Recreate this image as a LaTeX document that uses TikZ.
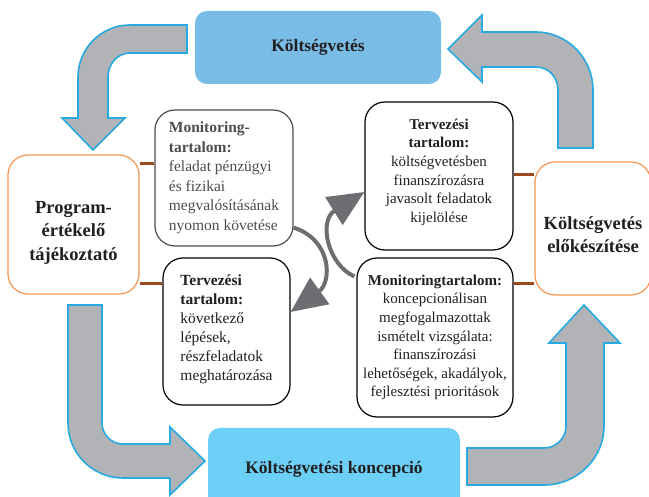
\documentclass[tikz,border=0pt]{standalone}
\usepackage{fontspec}
\setmainfont{Liberation Serif}
\usetikzlibrary{arrows.meta}

\definecolor{skyA}{HTML}{79BDE7}
\definecolor{skyB}{HTML}{6CCFF6}
\definecolor{flowgray}{HTML}{B1B3B6}
\definecolor{flowedge}{HTML}{27AAE1}
\definecolor{orangeedge}{HTML}{F39552}
\definecolor{linkbrown}{HTML}{9A4A1E}
\definecolor{loopgray}{HTML}{6D6E71}
\definecolor{ink}{HTML}{231F20}
\definecolor{softink}{HTML}{4D4D4F}

\tikzset{
  bigflow/.style={fill=flowgray, draw=flowedge, line width=1.6pt, line join=miter},
  stagebox/.style={draw=orangeedge, line width=1.2pt, fill=white, rounded corners=20pt,
    font=\fontsize{18.5}{23.5}\selectfont\bfseries, text=ink, align=center},
  budgetbox/.style={rounded corners=12pt, font=\fontsize{17.5}{21}\selectfont\bfseries, text=ink},
  notebox/.style={draw=black, line width=1.2pt, fill=white, rounded corners=20pt, text=ink},
  link/.style={draw=linkbrown, line width=3pt},
  loop/.style={draw=loopgray, line width=4pt, -{Triangle[length=36pt,width=32pt]}},
}
% struts that nudge a text block inside its box
\newcommand{\toppad}[1]{\rule{0pt}{#1}}
\newcommand{\botpad}[1]{\rule[-#1]{0pt}{1pt}}

\begin{document}
\begin{tikzpicture}[x=1pt,y=-1pt]
\useasboundingbox (0,0) rectangle (649,497);

% the four wide cycle arrows
\draw[bigflow] (187,25) -- (130,25) .. controls (101.3,25) and (78,48.3) .. (78,77)
  -- (78,118) -- (62,118) -- (93,150) -- (125,118) -- (108,118) -- (108,77)
  .. controls (108,63.7) and (117.8,53) .. (130,53) -- (187,53) -- cycle;
\draw[bigflow] (593,148) -- (593,90) .. controls (593,58.5) and (567.5,32) .. (536,32)
  -- (482,32) -- (482,15) -- (448,49) -- (482,82) -- (482,67) -- (536,67)
  .. controls (548.7,67) and (558,77.3) .. (558,90) -- (558,148) -- cycle;
\draw[bigflow] (68,305) -- (68,423) .. controls (68,453.4) and (92.6,478) .. (123,478)
  -- (170,478) -- (170,495) -- (205,461) -- (170,427) -- (170,444) -- (123,444)
  .. controls (111.4,444) and (102,434.6) .. (102,423) -- (102,305) -- cycle;
\draw[bigflow] (467,448) -- (467,485) -- (544,485) .. controls (577.1,485) and (604,458.6) .. (604,426)
  -- (604,343) -- (620,343) -- (584,305) -- (549,343) -- (566,343) -- (566,426)
  .. controls (566,438.2) and (556.2,448) .. (544,448) -- cycle;

% budget stages
\node[budgetbox, fill=skyA, minimum width=246pt, minimum height=73pt] (budget) at (318,47.5) {Költségvetés};
\node[budgetbox, fill=skyB, minimum width=252pt, minimum height=82pt] (concept) at (334,469) {Költségvetési koncepció};
\node[stagebox, minimum width=131pt, minimum height=139pt] (prog) at (73.5,224.5)
  {\toppad{28pt}Program-\\értékelő\\tájékoztató};
\node[stagebox, minimum width=116pt, minimum height=133pt] (prep) at (593,228.5)
  {\toppad{25pt}Költségvetés\\előkészítése};

% content notes
\node[notebox, draw=softink, text=softink, minimum width=138pt, minimum height=136pt,
  align=left, font=\fontsize{15.5}{19.5}\selectfont] (mon1) at (224,178)
  {\textbf{Monitoring-}\\\textbf{tartalom:}\\feladat pénzügyi\\és fizikai\\megvalósításának\\nyomon követése};
\node[notebox, minimum width=127pt, minimum height=147pt,
  align=left, font=\fontsize{15.5}{19}\selectfont] (ter1) at (226.5,331.5)
  {\textbf{Tervezési}\\\textbf{tartalom:}\\következő\\lépések,\\részfeladatok\\meghatározása\botpad{8pt}};
\node[notebox, minimum width=148pt, minimum height=148pt,
  align=center, font=\fontsize{15}{18.6}\selectfont] (ter2) at (439,176)
  {\textbf{Tervezési}\\\textbf{tartalom:}\\költségvetésben\\finanszírozásra\\javasolt feladatok\\kijelölése\botpad{11pt}};
\node[notebox, minimum width=156pt, minimum height=159pt,
  align=center, font=\fontsize{15}{18.6}\selectfont] (mon2) at (435,337.5)
  {\textbf{Monitoringtartalom:}\\koncepcionálisan\\megfogalmazottak\\ismételt vizsgálata:\\finanszírozási\\lehetőségek, akadályok,\\fejlesztési prioritások};

% brown ties between stages and notes
\path (prog.north east) ++(0,9) coordinate (pl1);
\path (prog.south east) ++(0,-11) coordinate (pl2);
\path (prep.north west) ++(0,13) coordinate (pr1);
\path (prep.south west) ++(0,-12) coordinate (pr2);
\draw[link] (pl1) -- (pl1 -| mon1.west);
\draw[link] (pl2) -- (pl2 -| ter1.west);
\draw[link] (pr1) -- (pr1 -| ter2.east);
\draw[link] (pr2) -- (pr2 -| mon2.east);

% inner feedback loops
\draw[loop] ([yshift=19pt]mon1.south east) .. controls (332,240) and (332,282) .. ([yshift=19.5pt]ter1.east);
\draw[loop] ([shift={(-2,19)}]mon2.north west) .. controls (328,265) and (318,221) .. ([yshift=-16pt]ter2.west);
\end{tikzpicture}
\end{document}
